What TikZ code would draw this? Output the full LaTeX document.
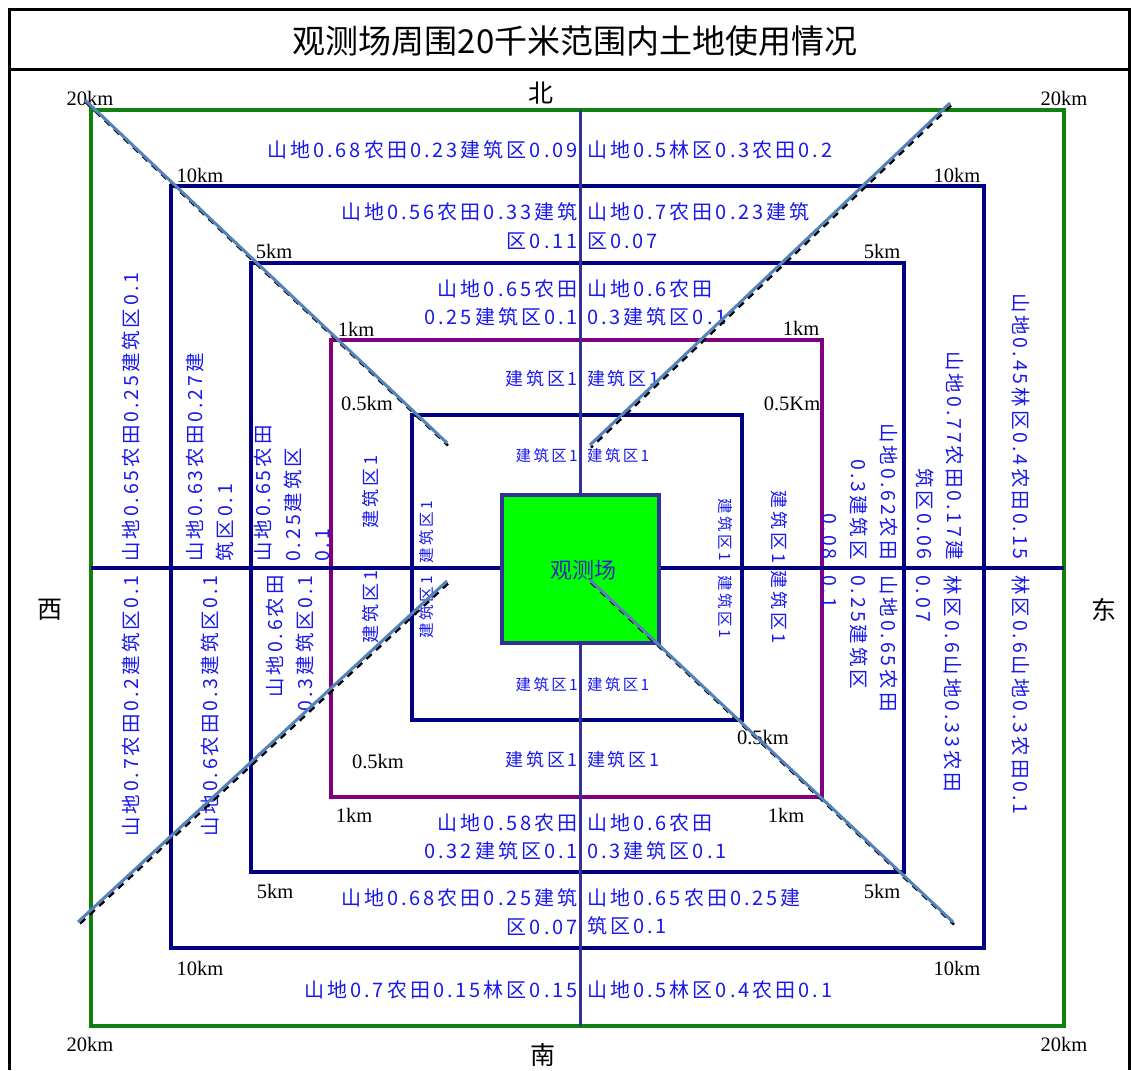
\documentclass[tikz,border=0pt]{standalone}
\usepackage{fontspec}
\setmainfont{Liberation Serif}
\newfontfamily\cjk{Noto Sans CJK SC}
\newfontfamily\cjksp[LetterSpace=15]{Noto Sans CJK SC}
\definecolor{txtblue}{RGB}{25,25,235}
\definecolor{sqgreen}{RGB}{16,128,16}
\definecolor{navyc}{RGB}{0,0,128}
\definecolor{purplec}{RGB}{128,0,128}
\definecolor{axisc}{RGB}{50,50,150}
\definecolor{obstext}{RGB}{40,40,190}
\definecolor{diagc}{RGB}{84,130,185}
\definecolor{obsgreen}{RGB}{0,255,0}
\begin{document}
\begin{tikzpicture}[x=1pt,y=-1pt,
  lab/.style={text=txtblue,font=\cjksp\fontsize{20}{28.5}\selectfont,inner sep=0pt},
  labm/.style={text=txtblue,font=\cjksp\fontsize{18}{26}\selectfont,inner sep=0pt},
  labs/.style={text=txtblue,font=\cjksp\fontsize{15.5}{22}\selectfont,inner sep=0pt},
  vlab/.style={text=txtblue,font=\cjksp\fontsize{19.5}{29.5}\selectfont,inner sep=0pt},
  km/.style={font=\fontsize{20.5}{20.5}\selectfont,inner sep=0pt},
  dirlab/.style={font=\cjk\fontsize{25}{25}\selectfont,inner sep=0pt},
  sq/.style={line width=4pt},
  diag/.style={diagc,line width=3pt},
  diagshadow/.style={black,line width=2.5pt,dash pattern=on 7pt off 6pt}]
\useasboundingbox (0,0) rectangle (1131,1070);
\fill[white] (0,0) rectangle (1131,1070);
% frame
\draw[line width=3pt] (9,1070) -- (9,10) -- (1129,10) -- (1129,1070);
\draw[line width=3pt] (9,70) -- (1129,70);
\node[font=\cjk\fontsize{33}{33}\selectfont,inner sep=0pt] (title) at (575,41) {观测场周围20千米范围内土地使用情况};
% squares
\draw[sq,sqgreen] (91,110) rectangle (1064,1026);
\draw[sq,navyc] (171,186) rectangle (984,948);
\draw[sq,navyc] (251,263) rectangle (904,872);
\draw[sq,purplec] (331,340) rectangle (822,797);
\draw[sq,navyc] (412,415) rectangle (742,720);
% axes
\draw[axisc,line width=3pt] (580,110) -- (580,1026);
\draw[navyc,line width=3.5pt] (91,568) -- (1064,568);
% centre
\node[draw=axisc,line width=4pt,fill=obsgreen,minimum width=157pt,minimum height=148pt,inner sep=0pt] (obs) at (580.5,569) {};
\node[text=obstext,font=\cjk\fontsize{22}{22}\selectfont,inner sep=0pt] (obstxt) at (583,570) {观测场};
% directions
\node[dirlab] (north) at (541,93) {北};
\node[dirlab] (south) at (543,1055) {南};
\node[dirlab] (west) at (50,610) {西};
\node[dirlab] (east) at (1104,610) {东};
% km labels
\node[km] (k20a) at (90,98) {20km};
\node[km] (k20b) at (1064,98) {20km};
\node[km] (k20c) at (90,1044) {20km};
\node[km] (k20d) at (1064,1044) {20km};
\node[km] (k10a) at (200,175) {10km};
\node[km] (k10b) at (957,175) {10km};
\node[km] (k10c) at (200,968) {10km};
\node[km] (k10d) at (957,968) {10km};
\node[km] (k5a) at (274,251) {5km};
\node[km] (k5b) at (882,251) {5km};
\node[km] (k5c) at (275,891) {5km};
\node[km] (k5d) at (882,891) {5km};
\node[km] (k1a) at (356,329) {1km};
\node[km] (k1b) at (801,328) {1km};
\node[km] (k1c) at (354,815) {1km};
\node[km] (k1d) at (786,815) {1km};
\node[km] (kha) at (367,404) {0.5km};
\node[km] (khb) at (792,404) {0.5Km};
\node[km] (khc) at (378,762) {0.5km};
\node[km] (khd) at (763,738) {0.5km};
% top labels
\node[lab,anchor=east] (t20l) at (578,150) {山地0.68农田0.23建筑区0.09};
\node[lab,anchor=west] (t20r) at (587,150) {山地0.5林区0.3农田0.2};
\node[lab,anchor=east,align=right] (t10l) at (578,226) {山地0.56农田0.33建筑\\区0.11};
\node[lab,anchor=west,align=left] (t10r) at (587,226) {山地0.7农田0.23建筑\\区0.07};
\node[lab,anchor=east,align=right] (t5l) at (578,303) {山地0.65农田\\0.25建筑区0.1};
\node[lab,anchor=west,align=left] (t5r) at (587,303) {山地0.6农田\\0.3建筑区0.1};
\node[labm,anchor=east] (t1l) at (578,379) {建筑区1};
\node[labm,anchor=west] (t1r) at (587,379) {建筑区1};
\node[labs,anchor=east] (thl) at (578,456) {建筑区1};
\node[labs,anchor=west] (thr) at (587,456) {建筑区1};
% bottom labels
\node[labs,anchor=east] (bhl) at (578,685) {建筑区1};
\node[labs,anchor=west] (bhr) at (587,685) {建筑区1};
\node[labm,anchor=east] (b1l) at (578,760) {建筑区1};
\node[labm,anchor=west] (b1r) at (587,760) {建筑区1};
\node[lab,anchor=east,align=right] (b5l) at (578,837) {山地0.58农田\\0.32建筑区0.1};
\node[lab,anchor=west,align=left] (b5r) at (587,837) {山地0.6农田\\0.3建筑区0.1};
\node[lab,anchor=east,align=right] (b10l) at (578,912) {山地0.68农田0.25建筑\\区0.07};
\node[lab,anchor=west,align=left] (b10r) at (587,912) {山地0.65农田0.25建\\筑区0.1};
\node[lab,anchor=east] (b20l) at (578,990) {山地0.7农田0.15林区0.15};
\node[lab,anchor=west] (b20r) at (587,990) {山地0.5林区0.4农田0.1};
% left labels
\node[vlab,rotate=90,anchor=west] (l20u) at (131,562) {山地0.65农田0.25建筑区0.1};
\node[vlab,rotate=90,anchor=east] (l20d) at (131,575) {山地0.7农田0.2建筑区0.1};
\node[vlab,rotate=90,anchor=west,align=left] (l10u) at (210,562) {山地0.63农田0.27建\\筑区0.1};
\node[vlab,rotate=90,anchor=east] (l10d) at (210,575) {山地0.6农田0.3建筑区0.1};
\node[vlab,rotate=90,anchor=west,align=left] (l5u) at (292,562) {山地0.65农田\\0.25建筑区\\0.1};
\node[vlab,rotate=90,anchor=east,align=right] (l5d) at (290,575) {山地0.6农田\\0.3建筑区0.1};
\node[labm,rotate=90] (l1u) at (371,492) {建筑区1};
\node[labm,rotate=90] (l1d) at (371,607) {建筑区1};
\node[labs,rotate=90] (lhu) at (427,532) {建筑区1};
\node[labs,rotate=90] (lhd) at (427,607) {建筑区1};
% right labels
\node[labs,rotate=-90] (rhu) at (725,530) {建筑区1};
\node[labs,rotate=-90] (rhd) at (725,607) {建筑区1};
\node[labm,rotate=-90] (r1u) at (779,527) {建筑区1};
\node[labm,rotate=-90] (r1d) at (779,607) {建筑区1};
\node[vlab,rotate=-90,anchor=east,align=right] (r5u) at (860,560) {山地0.62农田\\0.3建筑区\\0.08};
\node[vlab,rotate=-90,anchor=west,align=left] (r5d) at (860,575) {山地0.65农田\\0.25建筑区\\0.1};
\node[vlab,rotate=-90,anchor=east,align=right] (r10u) at (940,560) {山地0.77农田0.17建\\筑区0.06};
\node[vlab,rotate=-90,anchor=west,align=left] (r10d) at (939,575) {林区0.6山地0.33农田\\0.07};
\node[vlab,rotate=-90,anchor=east] (r20u) at (1021,560) {山地0.45林区0.4农田0.15};
\node[vlab,rotate=-90,anchor=west] (r20d) at (1021,575) {林区0.6山地0.3农田0.1};
% diagonals
\coordinate (tlA) at (85,100); \coordinate (tlB) at (447,443);
\coordinate (trA) at (950,103); \coordinate (trB) at (590,445);
\coordinate (blA) at (447,581); \coordinate (blB) at (78,922);
\coordinate (brA) at (590,580); \coordinate (brB) at (953,922);
\foreach \a/\b in {tlA/tlB,trA/trB,blA/blB,brA/brB}{
  \draw[diagshadow] ([shift={(1,2.5)}]\a) -- ([shift={(1,2.5)}]\b);
  \draw[diag] (\a) -- (\b);
}
\end{tikzpicture}
\end{document}
